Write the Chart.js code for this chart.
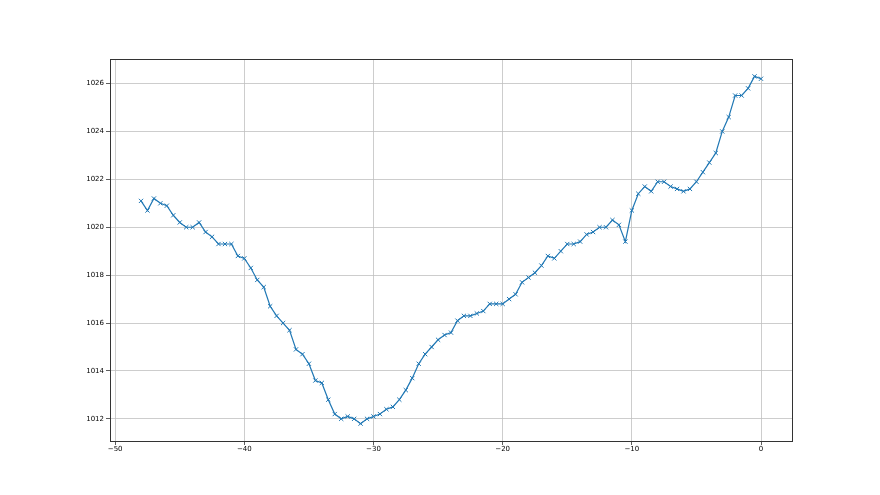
<!DOCTYPE html>
<html lang="en">
  <head>
    <meta charset="UTF-8" />
    <title>Pressure trend</title>
    <script src="https://cdn.jsdelivr.net/npm/chart.js"></script>
    <style>
      html, body { margin: 0; padding: 0; background: #fff; }
      #wrap { width: 880px; height: 495px; }
    </style>
  </head>
  <body>
    <div id="wrap"><canvas id="pressureChart" width="880" height="495"></canvas></div>

    <script>
      // hours relative to now, every half hour
      const hours = [
        -48, -47.5, -47, -46.5, -46, -45.5, -45, -44.5, -44, -43.5,
        -43, -42.5, -42, -41.5, -41, -40.5, -40, -39.5, -39, -38.5,
        -38, -37.5, -37, -36.5, -36, -35.5, -35, -34.5, -34, -33.5,
        -33, -32.5, -32, -31.5, -31, -30.5, -30, -29.5, -29, -28.5,
        -28, -27.5, -27, -26.5, -26, -25.5, -25, -24.5, -24, -23.5,
        -23, -22.5, -22, -21.5, -21, -20.5, -20, -19.5, -19, -18.5,
        -18, -17.5, -17, -16.5, -16, -15.5, -15, -14.5, -14, -13.5,
        -13, -12.5, -12, -11.5, -11, -10.5, -10, -9.5, -9, -8.5,
        -8, -7.5, -7, -6.5, -6, -5.5, -5, -4.5, -4, -3.5,
        -3, -2.5, -2, -1.5, -1, -0.5, 0
      ];
      const pressure = [
        1021.1, 1020.7, 1021.2, 1021.0, 1020.9, 1020.5, 1020.2, 1020.0, 1020.0, 1020.2,
        1019.8, 1019.6, 1019.3, 1019.3, 1019.3, 1018.8, 1018.7, 1018.3, 1017.8, 1017.5,
        1016.7, 1016.3, 1016.0, 1015.7, 1014.9, 1014.7, 1014.3, 1013.6, 1013.5, 1012.8,
        1012.2, 1012.0, 1012.1, 1012.0, 1011.8, 1012.0, 1012.1, 1012.2, 1012.4, 1012.5,
        1012.8, 1013.2, 1013.7, 1014.3, 1014.7, 1015.0, 1015.3, 1015.5, 1015.6, 1016.1,
        1016.3, 1016.3, 1016.4, 1016.5, 1016.8, 1016.8, 1016.8, 1017.0, 1017.2, 1017.7,
        1017.9, 1018.1, 1018.4, 1018.8, 1018.7, 1019.0, 1019.3, 1019.3, 1019.4, 1019.7,
        1019.8, 1020.0, 1020.0, 1020.3, 1020.1, 1019.4, 1020.7, 1021.4, 1021.7, 1021.5,
        1021.9, 1021.9, 1021.7, 1021.6, 1021.5, 1021.6, 1021.9, 1022.3, 1022.7, 1023.1,
        1024.0, 1024.6, 1025.5, 1025.5, 1025.8, 1026.3, 1026.2
      ];
      const xTicks = [-50, -40, -30, -20, -10, 0];
      const yTicks = [1012, 1014, 1016, 1018, 1020, 1022, 1024, 1026];

      const minus = (v) => String(v).replace("-", "\u2212");

      // full box round the plot, like a matplotlib axes frame
      const framePlugin = {
        id: "frame",
        afterDraw(chart) {
          const { ctx, chartArea: a } = chart;
          ctx.save();
          ctx.strokeStyle = "#333";
          ctx.lineWidth = 1;
          ctx.strokeRect(Math.round(a.left) + 0.5, Math.round(a.top) + 0.5,
            Math.round(a.right - a.left), Math.round(a.bottom - a.top));
          ctx.restore();
        }
      };

      Chart.defaults.font.family = "'DejaVu Sans', sans-serif";
      Chart.defaults.font.size = 7;
      Chart.defaults.color = "#000";

      new Chart(document.getElementById("pressureChart"), {
        type: "line",
        data: {
          datasets: [{
            data: hours.map((h, i) => ({ x: h, y: pressure[i] })),
            borderColor: "#1f77b4",
            backgroundColor: "#1f77b4",
            borderWidth: 1.2,
            pointStyle: "crossRot",
            pointRadius: 3,
            pointBorderWidth: 1,
            pointHoverRadius: 3,
            tension: 0,
            fill: false
          }]
        },
        options: {
          responsive: false,
          animation: false,
          events: [],
          layout: { padding: { left: 0, top: 59, right: 88, bottom: 0 } },
          plugins: { legend: { display: false }, tooltip: { enabled: false } },
          scales: {
            x: {
              type: "linear",
              min: -50.4,
              max: 2.4,
              afterBuildTicks: (s) => { s.ticks = xTicks.map((v) => ({ value: v })); },
              afterFit: (s) => { s.height = 54; },
              ticks: { callback: (v) => minus(v), padding: 0, maxRotation: 0 },
              grid: { color: "#c0c0c0", lineWidth: 0.8, tickLength: 4, tickColor: "#333" },
              border: { display: false }
            },
            y: {
              min: 1011.075,
              max: 1027.025,
              afterBuildTicks: (s) => { s.ticks = yTicks.map((v) => ({ value: v })); },
              afterFit: (s) => { s.width = 110; },
              ticks: { callback: (v) => String(v), padding: 2 },
              grid: { color: "#c0c0c0", lineWidth: 0.8, tickLength: 4, tickColor: "#333" },
              border: { display: false }
            }
          }
        },
        plugins: [framePlugin]
      });
    </script>
  </body>
</html>
